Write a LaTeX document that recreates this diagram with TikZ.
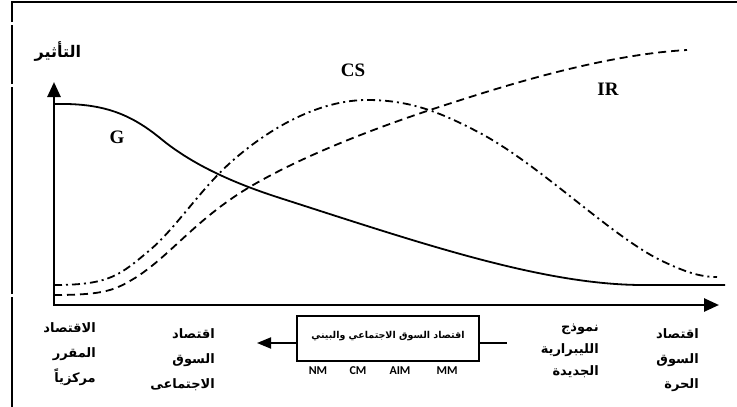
\documentclass[tikz,border=0pt]{standalone}
\usepackage{fontspec}
\setmainfont{Liberation Serif}
\newfontfamily\arabicfont[Script=Arabic]{DejaVu Sans}
\newfontfamily\codefont{Carlito}
\TeXXeTstate=1
\usetikzlibrary{arrows.meta}

\begin{document}
\begin{tikzpicture}[
  x=1pt, y=-1pt,
  frame/.style={line width=1.3pt},
  axis/.style={line width=2.6pt, {Triangle[length=15pt, width=13pt]}-{Triangle[length=15pt, width=13pt]}},
  curve/.style={line width=1.8pt},
  irline/.style={curve, dash pattern=on 8pt off 5pt},
  csline/.style={curve, dash pattern=on 8pt off 4pt on 2pt off 4pt},
  lbl/.style={font=\arabicfont\bfseries\fontsize{13}{25}\selectfont, align=right, anchor=north east, inner sep=0pt},
  lett/.style={font=\bfseries\fontsize{19}{20}\selectfont, inner sep=0pt},
  code/.style={font=\codefont\bfseries\fontsize{12}{14}\selectfont, inner sep=0pt},
  >=Stealth
]
\useasboundingbox (0,0) rectangle (737,407);
% frame
\draw[frame] (12,407) -- (12,297);
\draw[frame] (12,294) -- (12,87);
\draw[frame] (12,84) -- (12,25);
\draw[frame] (12,22) -- (12,2) -- (737,2);

% axes
\coordinate (o) at (54,305);
\coordinate (ytip) at (54,82);
\coordinate (xtip) at (719,305);
\draw[axis] (ytip) -- (o) -- (xtip);
\node[font=\arabicfont\bfseries\fontsize{16}{18}\selectfont] (yl) at (58,52) {\beginR التأثير\endR};

% curves
\draw[curve] (54,104) .. controls (100,103) and (128,112) .. (160,138)
  .. controls (190,163) and (230,182) .. (280,198)
  .. controls (420,243) and (540,284) .. (640,285) -- (725,285);
\draw[csline] (54,285) .. controls (110,285) and (120,275) .. (150,250)
  .. controls (175,229) and (200,190) .. (230,163)
  .. controls (270,127) and (320,100) .. (367,100)
  .. controls (410,100) and (440,112) .. (480,133)
  .. controls (540,165) and (610,235) .. (660,260)
  .. controls (685,272) and (700,277) .. (717,277);
\draw[irline] (54,295) .. controls (105,295) and (115,290) .. (135,278)
  .. controls (170,256) and (195,220) .. (248,188)
  .. controls (300,157) and (370,130) .. (430,110)
  .. controls (500,87) and (600,55) .. (687,50);
\node[lett] (g) at (117,137) {G};
\node[lett] (cs) at (353,70) {CS};
\node[lett] (ir) at (608,89) {IR};

% bottom labels
\node[lbl] (plan) at (96,322) {\beginR الاقتصاد\endR\\\beginR المقرر\endR\\\beginR مركزياً\endR};
\node[lbl] (sme) at (215,328) {\beginR اقتصاد\endR\\\beginR السوق\endR\\\beginR الاجتماعى\endR};
\node[lbl, font=\arabicfont\bfseries\fontsize{13}{22}\selectfont] (nlib) at (599,324) {\beginR نموذج\endR\\\beginR الليبرارية\endR\\\beginR الجديدة\endR};
\node[lbl] (free) at (699,328) {\beginR اقتصاد\endR\\\beginR السوق\endR\\\beginR الحرة\endR};

% middle box
\node[draw, line width=1.4pt, minimum width=182pt, minimum height=45pt, inner sep=0pt,
  text height=7pt, text depth=8pt, font=\arabicfont\bfseries\fontsize{9.5}{11}\selectfont]
  (soc) at (388,338.5) {\beginR اقتصاد السوق الاجتماعي والبيني\endR};
\coordinate (lt) at (257,343);
\coordinate (rt) at (507,343);
\draw[line width=1.8pt, -{Triangle[length=14pt, width=11pt]}] (soc.west |- lt) -- (lt);
\draw[line width=1.8pt] (soc.east |- rt) -- (rt);
\node[code] (nm) at (318,371) {NM};
\node[code] (cm) at (358,371) {CM};
\node[code] (aim) at (400,371) {AIM};
\node[code] (mm) at (447,371) {MM};
\end{tikzpicture}
\end{document}
